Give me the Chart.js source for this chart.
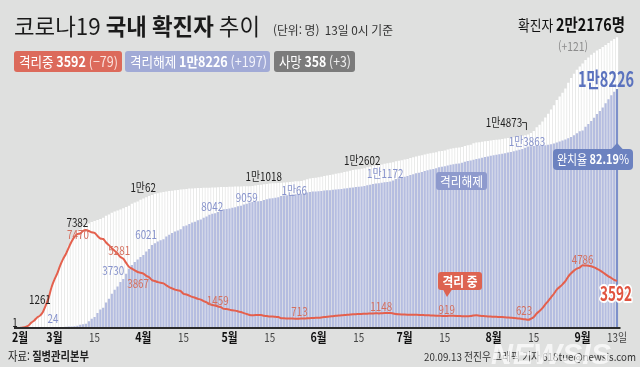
<!DOCTYPE html>
<html lang="ko">
<head>
<meta charset="utf-8">
<title>코로나19 국내 확진자 추이</title>
<script src="https://cdn.jsdelivr.net/npm/chart.js@4"></script>
<style>
  html, body { margin: 0; padding: 0; background: #ffffff; }
  #wrap { width: 640px; height: 388px; }
</style>
</head>
<body>
<div id="wrap"><canvas id="grafico" width="640" height="388"></canvas></div>
<script>
const FONT = "'Noto Sans CJK KR', 'Noto Sans', sans-serif";

// 첫 막대는 1월 20일 첫 확진(1명), 이후 2월 19일부터 9월 13일까지 하루 단위
const dias = ["1.20"];
for (let d = new Date(2020, 1, 19); d <= new Date(2020, 8, 13); d.setDate(d.getDate() + 1)) {
  dias.push(`${d.getMonth() + 1}.${d.getDate()}`);
}

// 누적 확진자
const confirmados = [
  1,
  51, 104, 204, 433, 602, 833, 977, 1261, 1766, 2337, 3150,
  3736, 4212, 4812, 5328, 5766, 6284, 6767, 7134, 7382, 7513,
  7755, 7869, 7979, 8086, 8162, 8236, 8320, 8413, 8565, 8652,
  8799, 8897, 8961, 9037, 9137, 9241, 9332, 9478, 9583, 9661, 9786,
  9887, 9976, 10062, 10156, 10237, 10284, 10331, 10384, 10423, 10450,
  10480, 10512, 10537, 10564, 10591, 10613, 10635, 10653, 10661, 10674,
  10683, 10694, 10702, 10708, 10718, 10728, 10738, 10752, 10761, 10765,
  10774, 10780, 10793, 10801, 10804, 10806, 10810, 10822, 10840, 10874,
  10909, 10936, 10962, 10991, 11018, 11037, 11050, 11065, 11078, 11110,
  11122, 11142, 11165, 11190, 11206, 11225, 11265, 11344, 11402, 11441, 11468,
  11503, 11541, 11590, 11629, 11668, 11719, 11776, 11814, 11852, 11902,
  11947, 12003, 12051, 12085, 12121, 12155, 12198, 12257, 12306, 12373,
  12421, 12438, 12484, 12535, 12563, 12602, 12653, 12715, 12757, 12800,
  12850, 12904, 12967, 13030, 13091, 13137, 13181, 13244, 13293, 13338,
  13373, 13417, 13479, 13512, 13551, 13612, 13672, 13711, 13745, 13771,
  13816, 13879, 13938, 13979, 14092, 14150, 14175, 14203, 14251, 14269, 14305,
  14336, 14366, 14389, 14423, 14456, 14499, 14519, 14562, 14598, 14626,
  14660, 14714, 14770, 14873, 15039, 15318, 15515, 15761, 16058, 16346,
  16670, 17002, 17399, 17665, 17945, 18265, 18706, 19077, 19400, 19699, 19947,
  20182, 20449, 20644, 20842, 21010, 21177, 21296, 21432, 21588, 21743,
  21919, 22055, 22176
];

// 누적 격리해제
const liberados = [
  0,
  16, 16, 16, 17, 18, 22, 22, 24, 26, 27, 28,
  30, 31, 34, 41, 88, 108, 118, 130, 166, 247,
  288, 333, 510, 714, 834, 1137, 1407, 1540, 1947, 2233,
  2612, 2909, 3166, 3507, 3730, 4144, 4528, 4811, 5033, 5228, 5408,
  5567, 5828, 6021, 6325, 6463, 6598, 6694, 6776, 6973, 7117,
  7243, 7368, 7447, 7534, 7757, 7829, 7937, 8042, 8114, 8213,
  8277, 8411, 8501, 8635, 8717, 8764, 8854, 8922, 9059, 9072,
  9123, 9183, 9217, 9283, 9333, 9419, 9484, 9568, 9610, 9632,
  9670, 9695, 9762, 9821, 9888, 9904, 9938, 9970, 10066, 10106,
  10128, 10156, 10183, 10211, 10226, 10240, 10271, 10335, 10381, 10407, 10423,
  10442, 10459, 10482, 10501, 10515, 10541, 10568, 10586, 10608, 10636,
  10666, 10701, 10729, 10753, 10779, 10802, 10834, 10883, 10921, 10978,
  11021, 11043, 11078, 11119, 11141, 11172, 11261, 11373, 11435, 11488,
  11543, 11602, 11670, 11737, 11803, 11853, 11906, 11979, 12038, 12091,
  12135, 12189, 12261, 12298, 12343, 12398, 12449, 12487, 12525, 12560,
  12615, 12682, 12736, 12771, 12834, 12887, 12936, 12988, 13051, 13089, 13134,
  13175, 13215, 13248, 13292, 13339, 13397, 13431, 13488, 13544, 13597,
  13661, 13749, 13842, 13863, 13890, 13905, 13920, 13935, 13950, 13980,
  14020, 14080, 14160, 14230, 14300, 14380, 14470, 14580, 14700, 14850, 15010,
  15072, 15360, 15560, 15800, 16050, 16330, 16550, 16830, 17150, 17450,
  17750, 18029, 18226
];

// 격리 중
const isolados = [
  1,
  35, 87, 186, 414, 578, 804, 945, 1225, 1727, 2297, 3105,
  3689, 4159, 4750, 5255, 5643, 6134, 6605, 6954, 7165, 7212,
  7407, 7470, 7402, 7300, 7253, 7024, 6832, 6789, 6527, 6325,
  6085, 5884, 5684, 5410, 5281, 4966, 4665, 4523, 4398, 4275, 4216,
  4155, 3979, 3867, 3654, 3591, 3500, 3445, 3408, 3246, 3125,
  3026, 2930, 2873, 2808, 2609, 2555, 2468, 2379, 2313, 2225,
  2169, 2045, 1961, 1833, 1761, 1722, 1641, 1587, 1459, 1446,
  1403, 1347, 1326, 1266, 1217, 1132, 1070, 998, 974, 986,
  983, 985, 941, 910, 870, 871, 850, 832, 749, 740,
  730, 722, 716, 715, 713, 716, 725, 740, 752, 765, 775,
  790, 810, 835, 855, 880, 905, 935, 955, 970, 990,
  1005, 1025, 1045, 1055, 1065, 1075, 1085, 1095, 1105, 1115,
  1120, 1115, 1125, 1135, 1140, 1148, 1110, 1060, 1040, 1030,
  1025, 1020, 1015, 1010, 1005, 1000, 990, 980, 970, 960,
  950, 940, 930, 925, 919, 925, 930, 930, 925, 915,
  905, 900, 905, 910, 960, 965, 940, 915, 900, 880, 870,
  860, 850, 840, 830, 815, 800, 785, 770, 750, 725,
  695, 660, 623, 705, 844, 1108, 1290, 1520, 1802, 2059,
  2341, 2613, 2930, 3126, 3332, 3572, 3922, 4176, 4379, 4526, 4613,
  4786, 4763, 4755, 4711, 4626, 4511, 4405, 4258, 4092, 3943,
  3814, 3671, 3592
];

const sumario = { isoladosDelta: "−79", liberadosDelta: "+197", mortes: 358, mortesDelta: "+3", confirmadosDelta: "+121" };

const eixoDias = ["1.20", "3.1", "3.15", "4.1", "4.15", "5.1", "5.15", "6.1", "6.15", "7.1", "7.15", "8.1", "8.15", "9.1", "9.13"];
const eixoTextos = ["2월", "3월", "15", "4월", "15", "5월", "15", "6월", "15", "7월", "15", "8월", "15", "9월", "13일"];

// 라벨 위치: [날짜, dx, dy]
const notasConfirmados = [["1.20", -5, -6], ["2.26", -3, -12], ["3.9", 0, -9], ["4.3", -6, -9], ["5.15", -6, -7], ["6.26", -28, -2], ["8.14", -27, -11]];
const notasLiberados = [["2.26", 10, -9], ["3.25", -10, -9], ["4.3", -3, -15], ["4.18", 20, -16], ["4.29", 23, -12], ["5.19", 13, -6], ["6.26", -5, -8], ["8.14", -4, -5]];
const notasIsolados = [["3.12", -8, 4], ["3.25", -4, -8], ["4.3", -11, 6], ["4.29", -6, -8], ["5.25", 1, -7], ["6.26", -9, -7], ["7.15", 2, -7], ["8.13", -4, -9], ["9.1", 0, -6]];

function fmt(v) {
  if (v >= 10000) {
    return `${Math.floor(v / 10000)}만${v % 10000}`;
  }
  return String(v);
}

function texto(ctx, partes, x, y, align = "left", largura = null, squeeze = 0.86) {
  let total = 0;
  partes.forEach((p) => {
    ctx.font = p.font;
    total += ctx.measureText(p.t).width;
  });
  const sx = largura ? largura / total : squeeze;
  ctx.save();
  ctx.translate(x, y);
  ctx.scale(sx, 1);
  let cx = align === "left" ? 0 : align === "right" ? -total : -total / 2;
  ctx.textBaseline = "middle";
  ctx.textAlign = "left";
  partes.forEach((p) => {
    ctx.font = p.font;
    if (p.stroke) {
      ctx.lineWidth = p.stroke;
      ctx.strokeStyle = "#ffffff";
      ctx.lineJoin = "round";
      ctx.strokeText(p.t, cx, 0);
    }
    ctx.fillStyle = p.color;
    ctx.fillText(p.t, cx, 0);
    cx += ctx.measureText(p.t).width;
  });
  ctx.restore();
  return total * sx;
}

function caixa(ctx, x, y, w, h, r, cor) {
  ctx.beginPath();
  ctx.moveTo(x + r, y);
  ctx.arcTo(x + w, y, x + w, y + h, r);
  ctx.arcTo(x + w, y + h, x, y + h, r);
  ctx.arcTo(x, y + h, x, y, r);
  ctx.arcTo(x, y, x + w, y, r);
  ctx.closePath();
  ctx.fillStyle = cor;
  ctx.fill();
}

function triangulo(ctx, pts, cor) {
  ctx.beginPath();
  ctx.moveTo(pts[0][0], pts[0][1]);
  ctx.lineTo(pts[1][0], pts[1][1]);
  ctx.lineTo(pts[2][0], pts[2][1]);
  ctx.closePath();
  ctx.fillStyle = cor;
  ctx.fill();
}

const f = (peso, tam) => `${peso} ${tam}px ${FONT}`;

const desenho = {
  id: "desenho",
  beforeDraw(chart) {
    const ctx = chart.ctx;
    ctx.save();
    ctx.fillStyle = "#ffffff";
    ctx.fillRect(0, 0, chart.width, chart.height);
    ctx.fillStyle = "#dfe0df";
    ctx.fillRect(0, 0, chart.width, 367);
    ctx.restore();
  },
  afterDraw(chart) {
    const ctx = chart.ctx;
    const xs = chart.scales.x;
    const ys = chart.scales.y;
    const area = chart.chartArea;
    const px = (dia) => xs.getPixelForValue(dias.indexOf(dia));

    // 축
    ctx.save();
    ctx.strokeStyle = "#2b2b2b";
    ctx.lineWidth = 2;
    ctx.beginPath();
    ctx.moveTo(14, area.bottom);
    ctx.lineTo(area.right + 2, area.bottom);
    ctx.stroke();
    ctx.restore();

    eixoDias.forEach((dia, i) => {
      const t = eixoTextos[i];
      const mes = t.endsWith("월");
      texto(ctx, [{ t, font: mes ? f(700, 13) : f(400, 12), color: mes ? "#111111" : "#444444" }], px(dia), 337, "center", null, 0.82);
    });

    // 데이터 라벨
    const notas = (lista, serie, cor) => {
      lista.forEach(([dia, dx, dy]) => {
        const i = dias.indexOf(dia);
        const x = xs.getPixelForValue(i) + dx;
        const y = ys.getPixelForValue(serie[i]) + dy;
        texto(ctx, [{ t: fmt(serie[i]), font: f(400, 12), color: cor }], x, y, "center", null, 0.82);
      });
    };
    notas(notasConfirmados, confirmados, "#1e1e1e");
    notas(notasLiberados, liberados, "#8793cc");
    notas(notasIsolados, isolados, "#d4705f");

    // 1만4873 꺾쇠
    const i14 = dias.indexOf("8.14");
    const bx = xs.getPixelForValue(i14);
    const by = ys.getPixelForValue(confirmados[i14]) - 11;
    ctx.save();
    ctx.strokeStyle = "#333333";
    ctx.lineWidth = 1;
    ctx.beginPath();
    ctx.moveTo(bx - 9, by + 0.5);
    ctx.lineTo(bx - 4.5, by + 0.5);
    ctx.lineTo(bx - 4.5, by + 8);
    ctx.stroke();
    ctx.restore();

    // 제목
    texto(ctx, [
      { t: "코로나19 ", font: f(400, 23), color: "#1a1a1a" },
      { t: "국내 확진자", font: f(700, 23), color: "#1a1a1a" },
      { t: " 추이", font: f(400, 23), color: "#1a1a1a" }
    ], 14, 26, "left", 246);
    texto(ctx, [{ t: "(단위: 명)  13일 0시 기준", font: f(400, 12), color: "#333333" }], 273, 30, "left", 120);

    // 범례 배지
    const ultimo = confirmados.length - 1;
    caixa(ctx, 14, 51, 108, 21, 3, "#dc6a5b");
    texto(ctx, [
      { t: "격리중 ", font: f(400, 14), color: "#ffffff" },
      { t: String(isolados[ultimo]), font: f(700, 14), color: "#ffffff" },
      { t: ` (${sumario.isoladosDelta})`, font: f(400, 14), color: "#fbe1dc" }
    ], 19, 61.5, "left", 99);
    caixa(ctx, 125, 51, 145, 21, 3, "#a1aad6");
    texto(ctx, [
      { t: "격리해제 ", font: f(400, 14), color: "#ffffff" },
      { t: fmt(liberados[ultimo]), font: f(700, 14), color: "#ffffff" },
      { t: ` (${sumario.liberadosDelta})`, font: f(400, 14), color: "#f2f3fb" }
    ], 130, 61.5, "left", 137);
    caixa(ctx, 274, 51, 81, 21, 3, "#7b7b7b");
    texto(ctx, [
      { t: "사망 ", font: f(400, 14), color: "#ffffff" },
      { t: String(sumario.mortes), font: f(700, 14), color: "#ffffff" },
      { t: ` (${sumario.mortesDelta})`, font: f(400, 14), color: "#eeeeee" }
    ], 279, 61.5, "left", 72);

    // 우측 상단
    texto(ctx, [
      { t: "확진자 ", font: f(400, 15), color: "#111111" },
      { t: `${fmt(confirmados[ultimo])}명`, font: f(700, 17), color: "#111111" }
    ], 625, 25, "right", 107);
    texto(ctx, [{ t: `(${sumario.confirmadosDelta})`, font: f(400, 12), color: "#8c8c8c" }], 573, 46, "center", 30);

    const lx = xs.getPixelForValue(ultimo);
    texto(ctx, [{ t: fmt(liberados[ultimo]), font: f(700, 21), color: "#5a72be" }], 634, 79, "right", 56);

    // 완치율
    const taxa = (liberados[ultimo] / confirmados[ultimo] * 100).toFixed(2);
    caixa(ctx, 553, 149, 80, 21, 4, "#6c82c0");
    triangulo(ctx, [[lx - 6, 149.5], [lx + 6, 149.5], [lx, 143]], "#6c82c0");
    texto(ctx, [
      { t: "완치율 ", font: f(400, 13), color: "#ffffff" },
      { t: taxa, font: f(700, 13), color: "#ffffff" },
      { t: "%", font: f(400, 13), color: "#ffffff" }
    ], 557, 159.5, "left", 72);

    caixa(ctx, 436, 172, 51, 18, 3, "#8e9acd");
    texto(ctx, [{ t: "격리해제", font: f(400, 13), color: "#ffffff" }], 461.5, 181, "center", 43);

    caixa(ctx, 438, 272, 44, 18, 3, "#dd6351");
    triangulo(ctx, [[443, 289.5], [452, 289.5], [447, 297]], "#dd6351");
    texto(ctx, [{ t: "격리 중", font: f(700, 13), color: "#ffffff" }], 460, 281, "center", 35);

    texto(ctx, [{ t: String(isolados[ultimo]), font: f(700, 20), color: "#e0533f", stroke: 4 }], 632, 293, "right", 32);

    // 출처
    texto(ctx, [
      { t: "자료: ", font: f(400, 12), color: "#222222" },
      { t: "질병관리본부", font: f(700, 12), color: "#222222" }
    ], 8, 356, "left", 81);
    texto(ctx, [{ t: "20.09.13 전진우 그래픽 기자 618tue@newsis.com", font: f(400, 11), color: "#333333" }], 636, 357, "right", 212);

    ctx.save();
    ctx.globalAlpha = 0.7;
    texto(ctx, [{ t: "NEWSIS", font: `italic 700 30px 'Liberation Sans', sans-serif`, color: "#ffffff" }], 551, 356, "center", 120);
    ctx.restore();
  }
};

const coresLiberados = liberados.map((_, i) => (i === liberados.length - 1 ? "#7d90ca" : "#b5bde0"));

const grafico = new Chart(document.getElementById("grafico"), {
  type: "bar",
  data: {
    labels: dias,
    datasets: [
      {
        type: "line",
        label: "격리중",
        data: isolados,
        borderColor: "#e4604d",
        borderWidth: 2,
        pointRadius: 0,
        cubicInterpolationMode: "monotone",
        fill: false,
        order: 0
      },
      {
        label: "격리해제",
        data: liberados,
        backgroundColor: coresLiberados,
        grouped: false,
        barPercentage: 0.78,
        categoryPercentage: 1,
        order: 1
      },
      {
        label: "확진자",
        data: confirmados,
        backgroundColor: "#ffffff",
        grouped: false,
        barPercentage: 0.78,
        categoryPercentage: 1,
        order: 2
      }
    ]
  },
  options: {
    responsive: false,
    animation: false,
    devicePixelRatio: 1,
    layout: { padding: { left: 18.5, right: 21.5, top: 20, bottom: 60 } },
    plugins: {
      legend: { display: false },
      tooltip: { enabled: false }
    },
    scales: {
      x: { display: false, offset: true },
      y: { display: false, min: 0, max: 23500 }
    }
  },
  plugins: [desenho]
});
</script>
</body>
</html>
